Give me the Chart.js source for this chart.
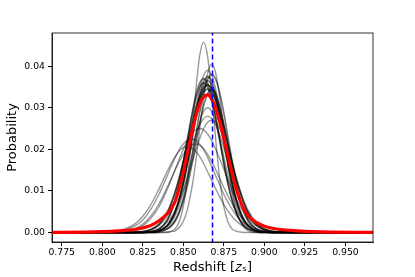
<!DOCTYPE html>
<html>
<head>
<meta charset="utf-8">
<script src="https://cdn.jsdelivr.net/npm/chart.js@4/dist/chart.umd.min.js"></script>
<style>
html,body{margin:0;padding:0;background:#fff;}
canvas{display:block;}
</style>
</head>
<body>
<canvas id="c" width="415" height="277"></canvas>
<script>
// Redshift sampling grid shared by all curves
const redshiftGrid = [0.769,0.79,0.80,0.81,0.82,0.825,0.83,0.835,0.84,0.8425,0.845,0.8475,0.85,0.8525,0.855,0.8575,0.86,0.8625,0.865,0.8675,0.87,0.8725,0.875,0.8775,0.88,0.8825,0.885,0.8875,0.89,0.895,0.90,0.905,0.91,0.92,0.93,0.967];

// Individual (grey) probability curves
const curveA  = [0,0,0,0,0,0,0,0,.0001,.0003,.0009,.0026,.0062,.0127,.0223,.0333,.0423,.0458,.0423,.0333,.0223,.0127,.0062,.0026,.0009,.0003,.0001,0,0,0,0,0,0,0,0,0];
const curveB  = [0,0,0,0,0,0,0,0,0,.0002,.0004,.0012,.0027,.0055,.0101,.0166,.0246,.0324,.0383,.0405,.0383,.0324,.0246,.0166,.0101,.0055,.0027,.0012,.0004,0,0,0,0,0,0,0];
const curveC  = [0,0,0,0,0,0,.0001,.0004,.0017,.0031,.0053,.0084,.0127,.0179,.0237,.0294,.0344,.0378,.0390,.0378,.0344,.0294,.0237,.0179,.0127,.0084,.0053,.0031,.0017,.0004,.0001,0,0,0,0,0];
const curveH  = [0,0,0,0,0,0,.0001,.0003,.0013,.0024,.0041,.0065,.0097,.0137,.0182,.0226,.0265,.0291,.0300,.0291,.0265,.0226,.0182,.0137,.0097,.0065,.0041,.0024,.0013,.0003,.0001,0,0,0,0,0];
const curveI  = [0,0,0,0,0,.0002,.0006,.0016,.0038,.0055,.0078,.0105,.0136,.0170,.0203,.0234,.0258,.0274,.0280,.0274,.0258,.0234,.0203,.0170,.0136,.0105,.0078,.0055,.0038,.0016,.0006,.0002,0,0,0,0];
const curveD  = [0,0,0,0,0,.0001,.0003,.0009,.0024,.0036,.0053,.0075,.0101,.0131,.0164,.0196,.0225,.0249,.0265,.0270,.0265,.0249,.0225,.0196,.0164,.0131,.0101,.0075,.0053,.0024,.0009,.0003,.0001,0,0,0];
const curveE  = [0,0,0,.0001,.0007,.0016,.0034,.0062,.0103,.0127,.0152,.0177,.0200,.0221,.0237,.0247,.0250,.0247,.0237,.0221,.0200,.0177,.0152,.0127,.0103,.0081,.0062,.0047,.0034,.0016,.0007,.0003,.0001,0,0,0];
const curveF  = [0,0,0,.0001,.0009,.0020,.0040,.0069,.0108,.0129,.0151,.0171,.0188,.0202,.0210,.0213,.0210,.0202,.0188,.0171,.0151,.0129,.0108,.0088,.0069,.0053,.0040,.0029,.0020,.0009,.0004,.0001,0,0,0,0];
const curveF2 = [0,0,0,.0002,.0015,.0030,.0056,.0092,.0136,.0159,.0180,.0199,.0213,.0222,.0225,.0222,.0213,.0199,.0180,.0159,.0136,.0114,.0092,.0073,.0056,.0042,.0030,.0022,.0015,.0006,.0002,.0001,0,0,0,0];
const curveG  = [0,0,0,.0004,.0020,.0039,.0067,.0105,.0146,.0166,.0183,.0196,.0204,.0207,.0204,.0196,.0183,.0166,.0146,.0126,.0105,.0085,.0067,.0052,.0039,.0028,.0020,.0014,.0009,.0004,.0001,0,0,0,0,0];

// Dense core bundle of curves (appear black where they overlap)
const curveK1 = [0,0,0,0,0,0,.0001,.0004,.0016,.0030,.0051,.0081,.0122,.0172,.0227,.0283,.0331,.0363,.0375,.0363,.0331,.0283,.0227,.0172,.0122,.0081,.0051,.0030,.0016,.0004,.0001,0,0,0,0,0];
const curveK2 = [0,0,0,0,0,0,.0002,.0008,.0029,.0049,.0078,.0117,.0165,.0218,.0272,.0318,.0349,.0360,.0349,.0318,.0272,.0218,.0165,.0117,.0078,.0049,.0029,.0016,.0008,.0002,0,0,0,0,0,0];
const curveK3 = [0,0,0,0,0,0,.0002,.0008,.0029,.0050,.0080,.0120,.0169,.0224,.0279,.0327,.0359,.0370,.0359,.0327,.0279,.0224,.0169,.0120,.0080,.0050,.0029,.0016,.0008,.0002,0,0,0,0,0,0];
const curveK4 = [0,0,0,0,0,.0002,.0007,.0019,.0047,.0068,.0096,.0129,.0168,.0209,.0250,.0288,.0318,.0338,.0345,.0338,.0318,.0288,.0250,.0209,.0168,.0129,.0096,.0068,.0047,.0019,.0007,.0002,.0001,0,0,0];
const curveK5 = [0,0,0,0,0,0,.0001,.0004,.0016,.0028,.0048,.0077,.0115,.0163,.0215,.0268,.0313,.0344,.0355,.0344,.0313,.0268,.0215,.0163,.0115,.0077,.0048,.0028,.0016,.0004,.0001,0,0,0,0,0];
const curveK6 = [0,0,0,0,0,0,0,.0002,.0008,.0015,.0027,.0047,.0075,.0112,.0158,.0209,.0260,.0304,.0334,.0345,.0334,.0304,.0260,.0209,.0158,.0112,.0075,.0047,.0027,.0008,.0002,0,0,0,0,0];
const curveK7 = [0,0,0,0,0,0,0,.0002,.0009,.0017,.0030,.0051,.0082,.0123,.0174,.0230,.0287,.0335,.0368,.0380,.0368,.0335,.0287,.0230,.0174,.0123,.0082,.0051,.0030,.0009,.0002,0,0,0,0,0];
const curveK8 = [0,0,0,0,0,0,.0001,.0004,.0016,.0029,.0049,.0079,.0119,.0167,.0221,.0276,.0322,.0354,.0365,.0354,.0322,.0276,.0221,.0167,.0119,.0079,.0049,.0029,.0016,.0004,.0001,0,0,0,0,0];
const curveK9 = [0,0,0,0,0,.0002,.0007,.0020,.0048,.0070,.0099,.0133,.0173,.0215,.0258,.0296,.0328,.0348,.0355,.0348,.0328,.0296,.0258,.0215,.0173,.0133,.0099,.0070,.0048,.0020,.0007,.0002,.0001,0,0,0];

// Combined (red) curve
const meanCurve = [0,.0001,.0002,.0004,.0007,.0011,.0017,.0028,.0045,.0058,.0075,.0108,.0146,.0190,.0236,.0277,.0309,.0326,.0331,.0321,.0298,.0265,.0226,.0184,.0144,.0107,.0077,.0055,.0040,.0024,.0015,.0010,.0007,.0004,.0002,0];

// True redshift (blue dashed line)
const trueRedshift = 0.868;

// Axis ticks
const xTickValues = [0.775,0.800,0.825,0.850,0.875,0.900,0.925,0.950];
const yTickValues = [0.00,0.01,0.02,0.03,0.04];

const greyCurves = [curveE,curveF,curveF2,curveG,curveD,curveI,curveH,curveA,curveB,curveC];
const coreCurves = [curveK1,curveK2,curveK3,curveK4,curveK5,curveK6,curveK7,curveK8,curveK9];

const toXY = arr => arr.map((y,i) => ({x: redshiftGrid[i], y: y}));

const datasets = [];
datasets.push({
  data: [{x: trueRedshift, y: -1}, {x: trueRedshift, y: 1}],
  borderColor: '#0000ff', borderWidth: 1.5, borderDash: [5,3],
  pointRadius: 0, order: 0
});
datasets.push({
  data: toXY(meanCurve),
  borderColor: '#ff0000', borderWidth: 3.2,
  pointRadius: 0, cubicInterpolationMode: 'monotone', order: 1
});
coreCurves.forEach(c => datasets.push({
  data: toXY(c),
  borderColor: 'rgba(0,0,0,0.55)', borderWidth: 1.6,
  pointRadius: 0, cubicInterpolationMode: 'monotone', order: 2
}));
greyCurves.forEach(c => datasets.push({
  data: toXY(c),
  borderColor: 'rgba(0,0,0,0.4)', borderWidth: 1.4,
  pointRadius: 0, cubicInterpolationMode: 'monotone', order: 3
}));

const framePlugin = {
  id: 'frame',
  afterDraw(chart) {
    const a = chart.chartArea, ctx = chart.ctx;
    ctx.save();
    ctx.strokeStyle = '#000';
    ctx.lineWidth = 0.8;
    ctx.strokeRect(a.left, a.top, a.right - a.left, a.bottom - a.top);
    ctx.restore();
  }
};

const tickFont = {family: 'DejaVu Sans', size: 9.3};
new Chart(document.getElementById('c'), {
  type: 'line',
  data: {datasets},
  options: {
    responsive: false, animation: false, devicePixelRatio: 1,
    layout: {padding: {left: 0, right: 42, top: 33, bottom: 0}},
    plugins: {legend: {display: false}, tooltip: {enabled: false}},
    scales: {
      x: {
        type: 'linear', min: 0.769, max: 0.967,
        afterFit: s => { s.height = 35; },
        afterBuildTicks: s => { s.ticks = xTickValues.map(v => ({value: v})); },
        ticks: {color: '#000', font: tickFont, padding: 1, maxRotation: 0, autoSkip: false,
                callback: v => Number(v).toFixed(3)},
        grid: {drawOnChartArea: false, drawTicks: true, tickLength: 4, color: '#000'},
        border: {display: true, color: '#000', width: 0.8},
        title: {display: true, text: 'Redshift [𝑧ₛ]', color: '#000',
                font: {family: 'DejaVu Sans', size: 13}, padding: {top: 0, bottom: 2}}
      },
      y: {
        type: 'linear', min: -0.0023, max: 0.048,
        afterFit: s => { s.width = 52; },
        afterBuildTicks: s => { s.ticks = yTickValues.map(v => ({value: v})); },
        ticks: {color: '#000', font: tickFont, padding: 3, autoSkip: false,
                callback: v => Number(v).toFixed(2)},
        grid: {drawOnChartArea: false, drawTicks: true, tickLength: 4, color: '#000'},
        border: {display: true, color: '#000', width: 0.8},
        title: {display: true, text: 'Probability', color: '#000',
                font: {family: 'DejaVu Sans', size: 13}, padding: {top: 5, bottom: 0}}
      }
    }
  },
  plugins: [framePlugin]
});
</script>
</body>
</html>
